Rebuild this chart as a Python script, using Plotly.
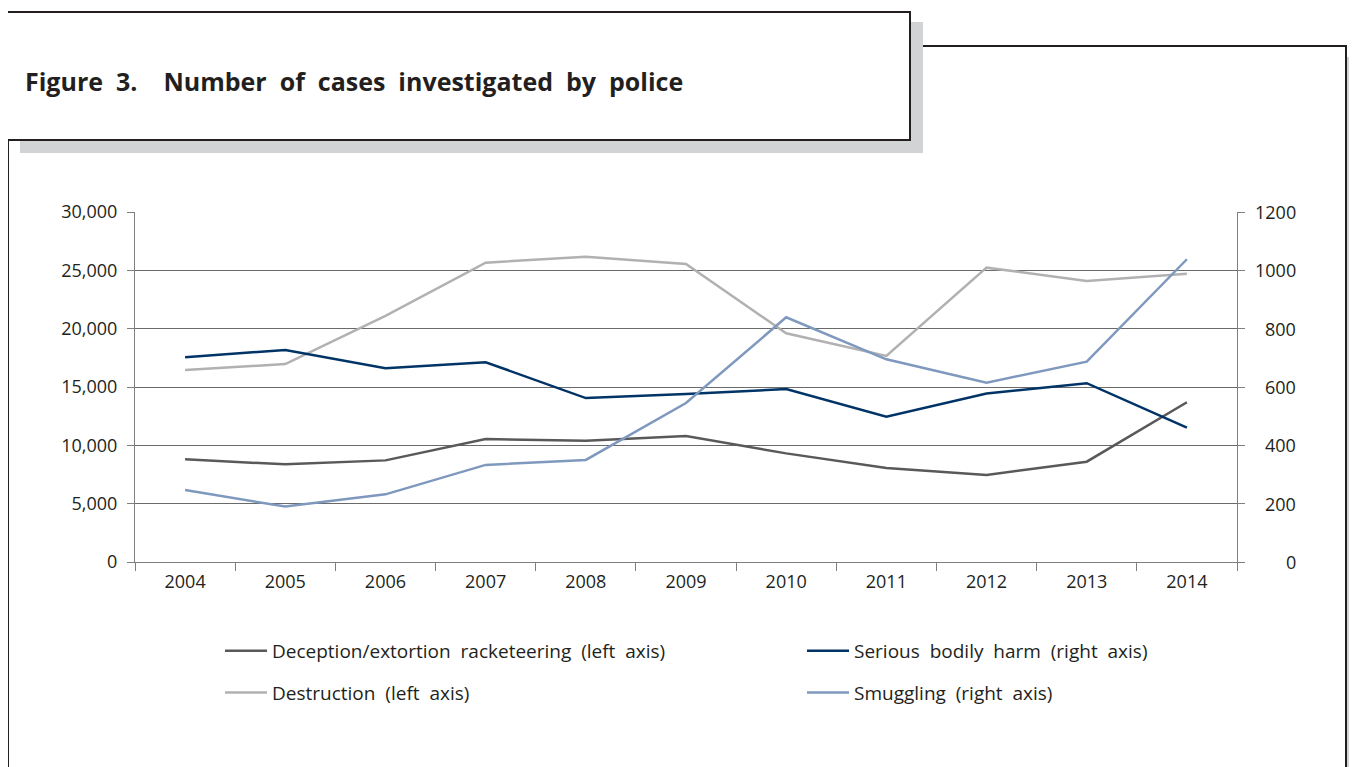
import plotly.graph_objects as go

years = ["2004", "2005", "2006", "2007", "2008", "2009", "2010", "2011", "2012", "2013", "2014"]
deception = [8800, 8370, 8710, 10540, 10400, 10800, 9310, 8060, 7460, 8600, 13690]
destruction = [16460, 16970, 21090, 25660, 26170, 25550, 19600, 17660, 25230, 24090, 24710]
serious_harm = [702, 727, 664, 685, 562, 576, 593, 498, 578, 613, 461]
smuggling = [247, 190, 232, 333, 350, 545, 839, 695, 615, 687, 1038]
right_ticks = [0, 200, 400, 600, 800, 1000, 1200]

OFF = 8  # page body margin
W, H = 1357 - OFF, 767 - OFF
# plot area in page pixels
PL, PR, PT, PB = 135, 1237, 212, 562
L, R, T, B = PL - OFF, PR - OFF, PT - OFF, PB - OFF
FONT = "Open Sans"
TXT = "#231f20"
SP = "\u00a0 "


def px(x):
    return (x - PL) / (PR - PL)


def py(y):
    return (PB - y) / (PB - PT)


def spaced(s):
    return s.replace(" ", SP)


fig = go.Figure()
fig.add_trace(go.Scatter(x=years, y=deception, mode="lines",
                         name=spaced("Deception/extortion racketeering (left axis)"),
                         line=dict(color="#595959", width=2.5), legend="legend", legendgroup="a"))
fig.add_trace(go.Scatter(x=years, y=destruction, mode="lines", name=spaced("Destruction (left axis)"),
                         line=dict(color="#b1b1b1", width=2.5), legend="legend", legendgroup="b"))
fig.add_trace(go.Scatter(x=years, y=serious_harm, mode="lines", name=spaced("Serious bodily harm (right axis)"),
                         line=dict(color="#003366", width=2.5), yaxis="y2", legend="legend2", legendgroup="c"))
fig.add_trace(go.Scatter(x=years, y=smuggling, mode="lines", name=spaced("Smuggling (right axis)"),
                         line=dict(color="#7f98be", width=2.5), yaxis="y2", legend="legend2", legendgroup="d"))

shapes = [
    dict(type="rect", xref="paper", yref="paper", x0=px(18), x1=px(1380), y0=py(57), y1=py(800),
         fillcolor="#d1d3d4", line=dict(width=0), layer="below"),
    dict(type="rect", xref="paper", yref="paper", x0=px(8), x1=px(1346), y0=py(46), y1=py(800),
         fillcolor="white", line=dict(color=TXT, width=2), layer="below"),
    dict(type="rect", xref="paper", yref="paper", x0=px(20), x1=px(923), y0=py(22), y1=py(153),
         fillcolor="#d1d3d4", line=dict(width=0), layer="below"),
    dict(type="rect", xref="paper", yref="paper", x0=px(-10), x1=px(910), y0=py(12), y1=py(140),
         fillcolor="white", line=dict(color=TXT, width=2), layer="below"),
]

annotations = [
    dict(text="Figure" + SP + "3.\u00a0\u00a0\u00a0 " + spaced("Number of cases investigated by police"),
         xref="paper", yref="paper", x=px(23), y=py(81), xanchor="left", yanchor="middle", showarrow=False,
         font=dict(family=FONT, size=25, color=TXT, weight="bold")),
]
for v in right_ticks:
    annotations.append(dict(text=str(v), xref="paper", yref="y2", x=px(1298), y=v, xanchor="right",
                            yanchor="middle", showarrow=False, font=dict(family=FONT, size=18, color=TXT)))

fig.update_layout(
    width=W, height=H,
    margin=dict(l=L, r=W - R, t=T, b=H - B, pad=0),
    paper_bgcolor="white", plot_bgcolor="rgba(0,0,0,0)",
    font=dict(family=FONT, size=18, color=TXT),
    shapes=shapes, annotations=annotations,
    xaxis=dict(type="category", range=[-0.5, 10.5], tickson="boundaries", ticks="outside", ticklen=8,
               tickcolor="#7f7f7f", showgrid=False, showline=True, linecolor="#7f7f7f", linewidth=1,
               ticklabelstandoff=3, tickfont=dict(family=FONT, size=18, color=TXT)),
    yaxis=dict(range=[0, 30000], dtick=5000, tickformat=",", ticks="outside", ticklen=7, tickcolor="#7f7f7f",
               showgrid=True, gridcolor="#6a6a6a", gridwidth=1, showline=True, linecolor="#7f7f7f",
               zeroline=False, ticklabelstandoff=6, tickfont=dict(family=FONT, size=18, color=TXT)),
    yaxis2=dict(range=[0, 1200], dtick=200, overlaying="y", side="right", ticks="outside", ticklen=7,
                tickcolor="#7f7f7f", showgrid=False, showline=True, linecolor="#7f7f7f", zeroline=False,
                showticklabels=False),
    legend=dict(orientation="v", x=px(220), y=py(632), xanchor="left", yanchor="top", itemwidth=42,
                bgcolor="rgba(0,0,0,0)", tracegroupgap=14, font=dict(family=FONT, size=19, color=TXT)),
    legend2=dict(orientation="v", x=px(802), y=py(632), xanchor="left", yanchor="top", itemwidth=42,
                 bgcolor="rgba(0,0,0,0)", tracegroupgap=14, font=dict(family=FONT, size=19, color=TXT)),
    showlegend=True,
)

fig.write_html("out.html")
